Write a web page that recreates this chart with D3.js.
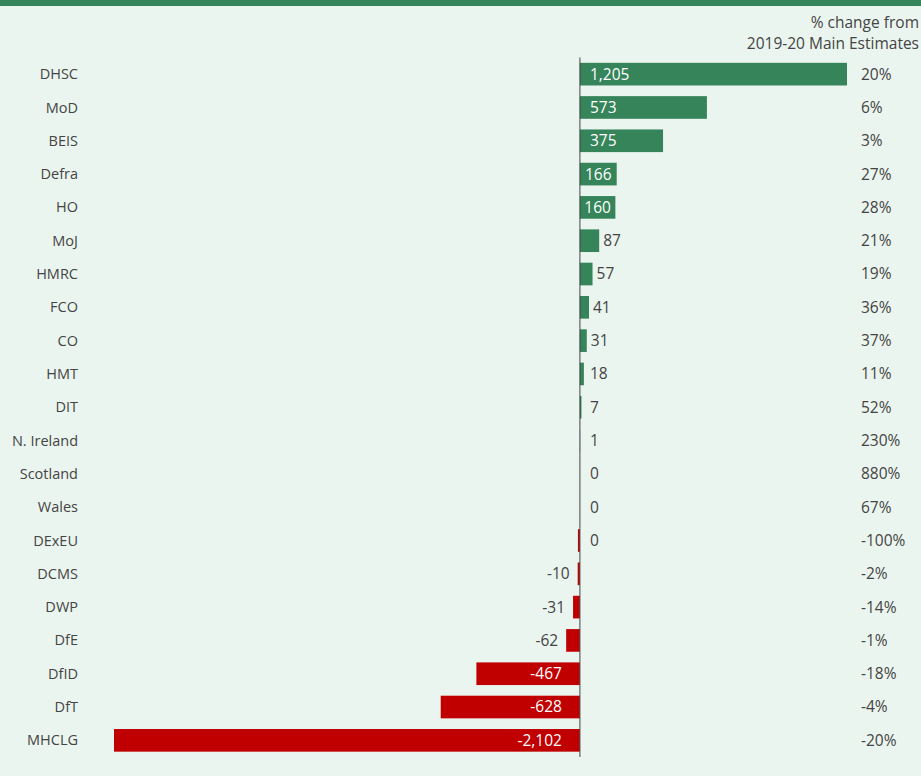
<!DOCTYPE html>
<html>
<head>
<meta charset="utf-8">
<script src="https://cdn.jsdelivr.net/npm/d3@7"></script>
<style>
    body { margin: 0; background: #ebf5ef; }
    svg { display: block; font-family: "Open Sans", sans-serif; }
</style>
</head>
<body>
<svg id="chart"></svg>
<script>
// departments, top to bottom
const departments = ["DHSC", "MoD", "BEIS", "Defra", "HO", "MoJ", "HMRC", "FCO", "CO", "HMT", "DIT",
    "N. Ireland", "Scotland", "Wales", "DExEU", "DCMS", "DWP", "DfE", "DfID", "DfT", "MHCLG"];
// change in £m
const values = [1205, 573, 375, 166, 160, 87, 57, 41, 31, 18, 7, 1, 0, 0, -9, -10, -31, -62, -467, -628, -2102];
// labels as printed on the chart
const valueLabels = ["1,205", "573", "375", "166", "160", "87", "57", "41", "31", "18", "7", "1", "0", "0", "0",
    "-10", "-31", "-62", "-467", "-628", "-2,102"];
// % change from 2019-20 Main Estimates
const pctChange = ["20%", "6%", "3%", "27%", "28%", "21%", "19%", "36%", "37%", "11%", "52%",
    "230%", "880%", "67%", "-100%", "-2%", "-14%", "-1%", "-18%", "-4%", "-20%"];

const width = 921, height = 776;
const green = "#35845a", red = "#c00000", textColor = "#444";

const svg = d3.select("#chart").attr("width", width).attr("height", height);

svg.append("rect").attr("x", 0).attr("y", 0).attr("width", width).attr("height", height).attr("fill", "#ebf5ef");
svg.append("rect").attr("x", 0).attr("y", 0).attr("width", width).attr("height", 6).attr("fill", green);

const data = departments.map((d, i) => ({ name: d, value: values[i], label: valueLabels[i], pct: pctChange[i] }));

const x = d3.scaleLinear().domain([-2102, 1205]).range([114, 847]);
const y = d3.scaleBand().domain(departments).range([57.5, 757]).paddingInner(0.32).paddingOuter(0.16);
const x0 = x(0);

// header
const header = svg.append("text")
    .attr("text-anchor", "end")
    .attr("fill", textColor)
    .style("font-size", "15.5px");
header.append("tspan").attr("x", 919).attr("y", 28).text("% change from");
header.append("tspan").attr("x", 919).attr("y", 49).text("2019-20 Main Estimates");

const rows = svg.append("g").selectAll("g")
    .data(data)
    .join("g");

rows.append("rect")
    .attr("x", d => Math.min(x(d.value), x0))
    .attr("y", d => y(d.name))
    .attr("width", d => Math.abs(x(d.value) - x0))
    .attr("height", y.bandwidth())
    .attr("fill", d => d.value < 0 ? red : green);

const cy = d => y(d.name) + y.bandwidth() / 2;

// department names
rows.append("text")
    .attr("x", 78)
    .attr("y", cy)
    .attr("dy", "0.35em")
    .attr("text-anchor", "end")
    .attr("fill", textColor)
    .style("font-size", "14.5px")
    .text(d => d.name);

// percentage column
rows.append("text")
    .attr("x", 861)
    .attr("y", cy)
    .attr("dy", "0.35em")
    .attr("fill", textColor)
    .style("font-size", "15.5px")
    .text(d => d.pct);

// value labels, inside the bar when there is room
rows.append("text")
    .attr("y", cy)
    .attr("dy", "0.35em")
    .style("font-size", "15.5px")
    .text(d => d.label)
    .each(function(d) {
        const t = d3.select(this);
        const tw = this.getComputedTextLength();
        const bw = Math.abs(x(d.value) - x0);
        if (!d.label.startsWith("-")) {
            if (d.value > 0 && bw > tw + 8) {
                t.attr("x", x0 + Math.min(10, (bw - tw) / 2)).attr("fill", "#fff");
            } else {
                t.attr("x", Math.max(x(d.value) + 4, x0 + 10)).attr("fill", textColor);
            }
        } else {
            if (bw > tw + 30) {
                t.attr("x", x0 - 18).attr("text-anchor", "end").attr("fill", "#fff");
            } else {
                t.attr("x", x(d.value) - 8).attr("text-anchor", "end").attr("fill", textColor);
            }
        }
    });

// zero line
svg.append("line")
    .attr("x1", x0).attr("x2", x0)
    .attr("y1", 57.5).attr("y2", 757)
    .attr("stroke", "#444")
    .attr("stroke-width", 1);
</script>
</body>
</html>
